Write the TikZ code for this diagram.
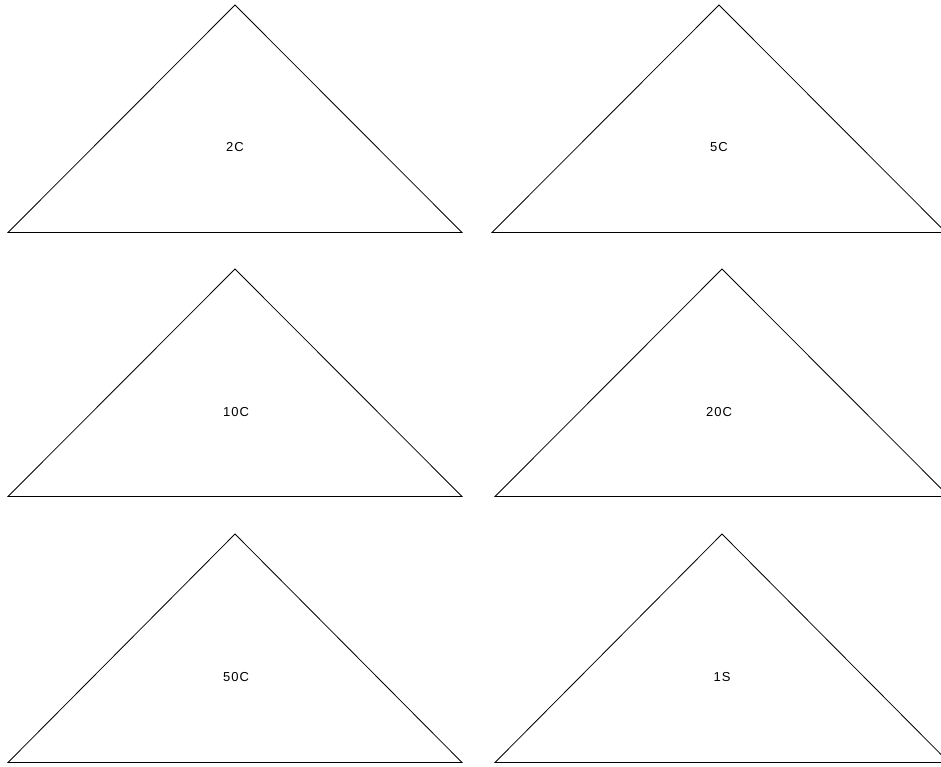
\documentclass[tikz,border=0pt]{standalone}
\usepackage{fontspec}
\setmainfont{Liberation Sans}[LetterSpace=8]
\begin{document}
\begin{tikzpicture}[x=1pt,y=-1pt,
  tri/.style={draw=black,line width=0.8pt,line join=miter},
  lab/.style={font=\fontsize{13}{15}\selectfont,inner sep=0pt,anchor=center}]
\useasboundingbox (0,0) rectangle (941,766);
\clip (0,0) rectangle (941,766);
% row 1
\coordinate (a1) at (235,5);   \coordinate (l1) at (8,232.5);   \coordinate (r1) at (462,232.5);
\coordinate (a2) at (719,5);   \coordinate (l2) at (492,232.5); \coordinate (r2) at (946,232.5);
% row 2
\coordinate (a3) at (235,269); \coordinate (l3) at (8,496.5);   \coordinate (r3) at (462,496.5);
\coordinate (a4) at (722,269); \coordinate (l4) at (495,496.5); \coordinate (r4) at (949,496.5);
% row 3
\coordinate (a5) at (235,534); \coordinate (l5) at (8,762.5);   \coordinate (r5) at (462,762.5);
\coordinate (a6) at (722,534); \coordinate (l6) at (495,762.5); \coordinate (r6) at (949,762.5);
\draw[tri] (l1) -- (a1) -- (r1) -- cycle;
\draw[tri] (l2) -- (a2) -- (r2) -- cycle;
\draw[tri] (l3) -- (a3) -- (r3) -- cycle;
\draw[tri] (l4) -- (a4) -- (r4) -- cycle;
\draw[tri] (l5) -- (a5) -- (r5) -- cycle;
\draw[tri] (l6) -- (a6) -- (r6) -- cycle;
\node[lab] (t1) at (235,147) {2C};
\node[lab] (t2) at (719,147) {5C};
\node[lab] (t3) at (236,412) {10C};
\node[lab] (t4) at (719,412) {20C};
\node[lab] (t5) at (236,677) {50C};
\node[lab] (t6) at (722,677) {1S};
\end{tikzpicture}
\end{document}
